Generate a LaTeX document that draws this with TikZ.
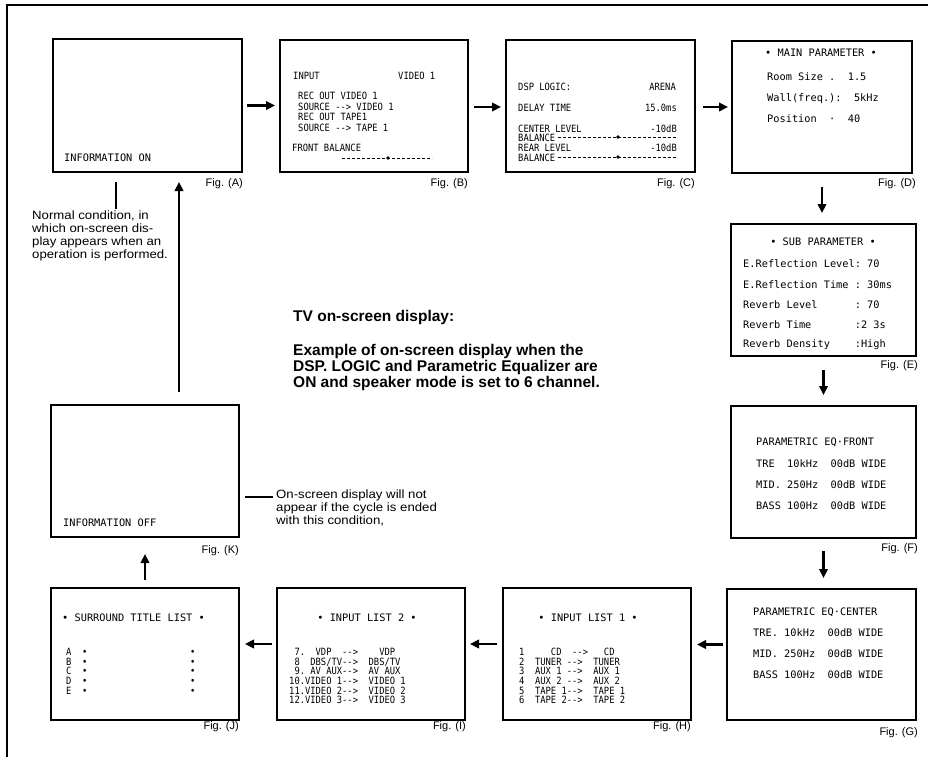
\documentclass[tikz,border=0pt]{standalone}
\usepackage{fontspec}
\setmainfont{Liberation Sans}
\newfontfamily\osd{DejaVu Sans Mono}
\newfontfamily\osdn[FakeStretch=0.88]{DejaVu Sans Mono}
\newfontfamily\notef[FakeStretch=1.1]{Liberation Sans}
\usetikzlibrary{arrows.meta,calc}
\newcommand\arw{\mbox{-}\mbox{-}\mbox{>}}
\begin{document}
\begin{tikzpicture}[x=1pt,y=-1pt,
 screen/.style={draw,line width=1.1pt,inner sep=0pt,outer sep=0pt,anchor=north west},
 arr/.style={line width=2.3pt,-{Triangle[length=9pt,width=8.5pt]}},
 bar/.style={line width=2.2pt},
 figlab/.style={anchor=base east,inner sep=0pt,font=\fontsize{11}{13}\selectfont},
 tw/.style={anchor=base west,inner sep=0pt,font=\osd\fontsize{10.3}{11}\selectfont},
 te/.style={anchor=base east,inner sep=0pt,font=\osd\fontsize{10.3}{11}\selectfont},
 tc/.style={anchor=base,inner sep=0pt,font=\osd\fontsize{10.3}{11}\selectfont},
 nw/.style={anchor=base west,inner sep=0pt,font=\osdn\fontsize{10}{10}\selectfont},
 ne/.style={anchor=base east,inner sep=0pt,font=\osdn\fontsize{10}{10}\selectfont},
 slider/.style={line width=0.9pt,dash pattern=on 3pt off 2pt},
 note/.style={anchor=north west,inner sep=0pt,align=left,font=\notef\fontsize{12}{13}\selectfont},
 big/.style={inner sep=0pt,font=\bfseries\fontsize{15.5}{16}\selectfont}
]
\useasboundingbox (0,0) rectangle (928,757);
% frame
\draw[line width=1.3pt] (7,757) -- (7,5) -- (928,5);

% screens
\node[screen,minimum width=189pt,minimum height=133pt] (A) at (53,39) {};
\node[screen,minimum width=188pt,minimum height=132pt] (B) at (280,40) {};
\node[screen,minimum width=189pt,minimum height=132pt] (C) at (506,40) {};
\node[screen,minimum width=180pt,minimum height=132pt] (D) at (732,41) {};
\node[screen,minimum width=185pt,minimum height=132pt] (E) at (731,224) {};
\node[screen,minimum width=185pt,minimum height=132pt] (F) at (731,406) {};
\node[screen,minimum width=189pt,minimum height=131pt] (G) at (727,589) {};
\node[screen,minimum width=188pt,minimum height=132pt] (H) at (503,588) {};
\node[screen,minimum width=188pt,minimum height=132pt] (I) at (277,588) {};
\node[screen,minimum width=188pt,minimum height=132pt] (J) at (51,588) {};
\node[screen,minimum width=188pt,minimum height=132pt] (K) at (51,405) {};

% figure labels
\node[figlab] (fA) at (243,186) {Fig. (A)};
\node[figlab] (fB) at (468,186) {Fig. (B)};
\node[figlab] (fC) at (695,186) {Fig. (C)};
\node[figlab] (fD) at (916,186) {Fig. (D)};
\node[figlab] (fE) at (918,368) {Fig. (E)};
\node[figlab] (fF) at (918,551) {Fig. (F)};
\node[figlab] (fG) at (918,735) {Fig. (G)};
\node[figlab] (fH) at (691,729) {Fig. (H)};
\node[figlab] (fI) at (466,729) {Fig. (I)};
\node[figlab] (fJ) at (239,729) {Fig. (J)};
\node[figlab] (fK) at (239,553) {Fig. (K)};

% A
\node[tw] (a1) at (64,161) {INFORMATION~ON};
% K
\node[tw] (k1) at (63,526) {INFORMATION~OFF};

% B
\node[nw] (b1) at (293,80) {INPUT};
\node[nw] (b2) at (398,80) {VIDEO~1};
\node[nw] (b3) at (298,100) {REC~OUT~VIDEO~1};
\node[nw] (b4) at (298,110.5) {SOURCE~\arw~VIDEO~1};
\node[nw] (b5) at (298,121) {REC~OUT~TAPE1};
\node[nw] (b6) at (298,131.5) {SOURCE~\arw~TAPE~1};
\node[nw] (b7) at (292,151) {FRONT~BALANCE};
\coordinate (bs1) at (342,158); \coordinate (bs2) at (432,158);
\draw[slider] (bs1) -- (bs2);
\fill (388,158) circle (1.8pt);

% C
\node[nw] (c1) at (518,91) {DSP~LOGIC:};
\node[ne] (c1v) at (676,91) {ARENA};
\node[nw] (c2) at (518,112) {DELAY~TIME};
\node[ne] (c2v) at (677,112) {15.0ms};
\node[nw] (c3) at (518,132) {CENTER~LEVEL};
\node[ne] (c3v) at (677,132) {-10dB};
\node[nw] (c4) at (518,141) {BALANCE};
\node[nw] (c5) at (518,151) {REAR~LEVEL};
\node[ne] (c5v) at (677,151) {-10dB};
\node[nw] (c6) at (518,161) {BALANCE};
\coordinate (cs1) at (558,137); \coordinate (cs2) at (677,137);
\coordinate (cs3) at (558,157); \coordinate (cs4) at (677,157);
\draw[slider] (cs1) -- (cs2);
\draw[slider] (cs3) -- (cs4);
\fill (618,137) circle (1.8pt);
\fill (618,157) circle (1.8pt);

% D
\node[tc] (d0) at (821,57) {•~MAIN~PARAMETER~•};
\node[tw] (d1) at (767,81) {Room~Size~.~~1.5};
\node[tw] (d2) at (767,102) {Wall(freq.):~~5kHz};
\node[tw] (d3) at (767,123) {Position~~·~~40};

% E
\node[tc] (e0) at (823,245) {•~SUB~PARAMETER~•};
\node[tw] (e1) at (743,267) {E.Reflection~Level:~70};
\node[tw] (e2) at (743,288) {E.Reflection~Time~:~30ms};
\node[tw] (e3) at (743,308) {Reverb~Level~~~~~~:~70};
\node[tw] (e4) at (743,328) {Reverb~Time~~~~~~~:2~3s};
\node[tw] (e5) at (743,347) {Reverb~Density~~~~:High};

% F
\node[tw] (f0) at (756,445) {PARAMETRIC~EQ·FRONT};
\node[tw] (f1) at (756,467) {TRE~~10kHz~~00dB~WIDE};
\node[tw] (f2) at (756,488) {MID.~250Hz~~00dB~WIDE};
\node[tw] (f3) at (756,509) {BASS~100Hz~~00dB~WIDE};

% G
\node[tw] (g0) at (753,615) {PARAMETRIC~EQ·CENTER};
\node[tw] (g1) at (753,636) {TRE.~10kHz~~00dB~WIDE};
\node[tw] (g2) at (753,657) {MID.~250Hz~~00dB~WIDE};
\node[tw] (g3) at (753,678) {BASS~100Hz~~00dB~WIDE};

% H
\node[tc] (h0) at (588,621) {•~INPUT~LIST~1~•};
\foreach \t [count=\i] in {1~~~~~CD~~\arw~~~CD,2~~TUNER~\arw~~TUNER,3~~AUX~1~\arw~~AUX~1,4~~AUX~2~\arw~~AUX~2,5~~TAPE~1\arw~~TAPE~1,6~~TAPE~2\arw~~TAPE~2}
  \node[nw] (h\i) at (519,{646+9.6*\i}) {\t};

% I
\node[tc] (i0) at (367,621) {•~INPUT~LIST~2~•};
\foreach \t [count=\i] in {~7.~~VDP~~\arw~~~~VDP,~8~~DBS/TV\arw~~DBS/TV,~9.~AV~AUX\arw~~AV~AUX,10.VIDEO~1\arw~~VIDEO~1,11.VIDEO~2\arw~~VIDEO~2,12.VIDEO~3\arw~~VIDEO~3}
  \node[nw] (i\i) at (289,{646+9.6*\i}) {\t};

% J
\node[tw] (j0) at (62,621) {•~SURROUND~TITLE~LIST~•};
\foreach \t [count=\i] in {A,B,C,D,E}{
  \node[nw] (jl\i) at (66,{646+9.6*\i}) {\t};
  \node[nw] (jm\i) at (82,{646+9.6*\i}) {•};
  \node[nw] (jr\i) at (190,{646+9.6*\i}) {•};
}

% notes
\node[note] (noteA) at (32,211) {Normal condition, in\\which on-screen dis-\\play appears when an\\operation is performed.};
\node[note] (noteK) at (276,490) {On-screen display will not\\appear if the cycle is ended\\with this condition,};
\node[big,anchor=base west] (title) at (293,321) {TV on-screen display:};
\node[big,anchor=north west,align=left] (expl) at (293,344) {Example of on-screen display when the\\DSP. LOGIC and Parametric Equalizer are\\ON and speaker mode is set to 6 channel.};

% connectors
\draw[arr] ($(A.east)+(5,0)$) -- ($(A.east -| B.west)+(-5,0)$);
\draw[arr] ($(B.east)+(6,1)$) -- ($(B.east -| C.west)+(-5,1)$);
\draw[arr] ($(C.east)+(8,1)$) -- ($(C.east -| D.west)+(-4,1)$);
\draw[arr] ($(D.south)+(0,14)$) -- ($(D.south |- E.north)+(0,-11)$);
\draw[arr] ($(E.south)+(0,14)$) -- ($(E.south |- F.north)+(0,-11)$);
\draw[arr] ($(F.south)+(0,13)$) -- ($(F.south |- G.north)+(0,-11)$);
\draw[arr] ($(G.west)+(-4,-10)$) -- ($(G.west -| H.east)+(6,-10)$);
\draw[arr] ($(H.west)+(-6,-10)$) -- ($(H.west -| I.east)+(5,-10)$);
\draw[arr] ($(I.west)+(-5,-10)$) -- ($(I.west -| J.east)+(6,-10)$);
\draw[arr] ($(J.north)+(0,-8)$) -- ($(J.north |- K.south)+(0,17)$);
\draw[arr] ($(K.north)+(34,-13)$) coordinate (ka) -- ($(ka |- A.south)+(0,10)$);
\draw[bar] ($(A.south)+(-31.5,10)$) coordinate (na) -- ($(na |- noteA.north)+(0,-2)$);
\draw[bar] ($(K.east)+(6,26)$) coordinate (nk) -- ($(nk -| noteK.west)+(-3,0)$);
\end{tikzpicture}
\end{document}
